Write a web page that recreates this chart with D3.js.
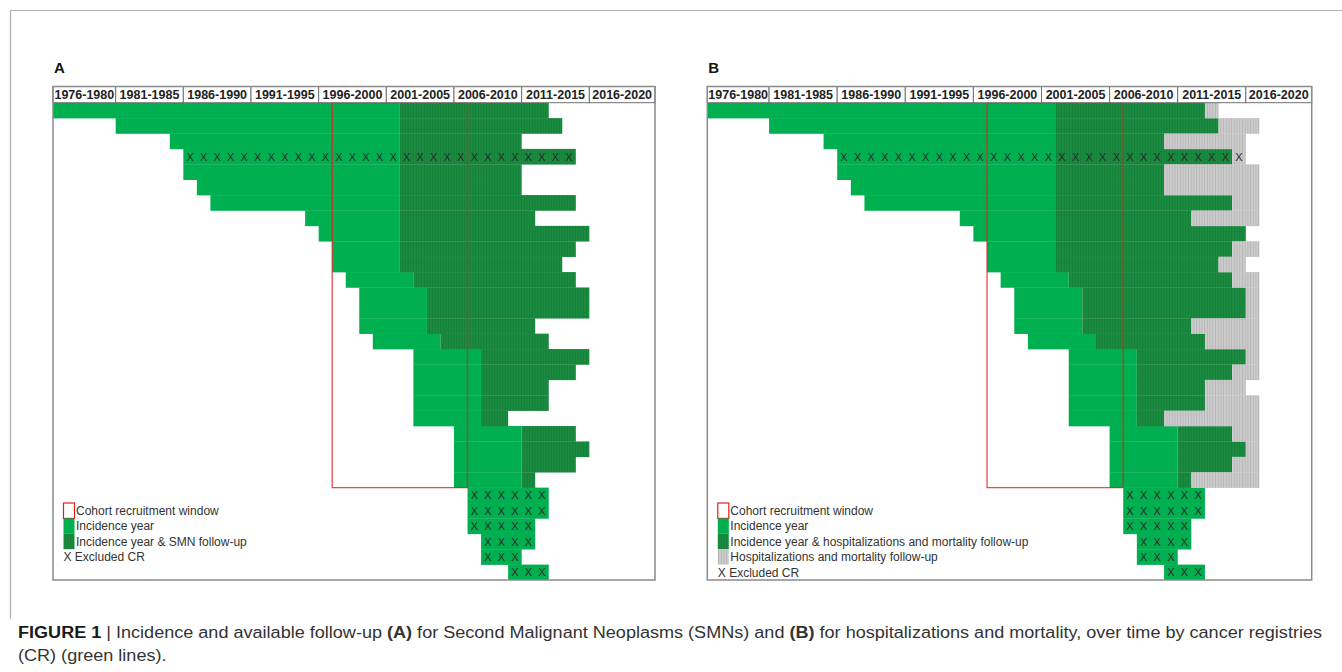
<!DOCTYPE html>
<meta charset="utf-8">
<html>
<body style="margin:0;background:#fff">
<div id="chart"></div>
<script src="https://cdnjs.cloudflare.com/ajax/libs/d3/7.8.5/d3.min.js"></script>
<script type="text/javascript">

  // five-year header periods
  var periods = ["1976-1980", "1981-1985", "1986-1990", "1991-1995", "1996-2000",
                 "2001-2005", "2006-2010", "2011-2015", "2016-2020"];

  // one entry per cancer registry (row)
  var startYear = [1976, 1981, 1985, 1986, 1986, 1987, 1988, 1995, 1996, 1997, 1997,
                   1998, 1999, 1999, 1999, 2000, 2003, 2003, 2003, 2003, 2003,
                   2006, 2006, 2006, 2006, 2007, 2007, 2007, 2008, 2008, 2010];
  // first year with follow-up (null = incidence only)
  var followStart = [2002, 2002, 2002, 2002, 2002, 2002, 2002, 2002, 2002, 2002, 2002,
                     2003, 2004, 2004, 2004, 2005, 2008, 2008, 2008, 2008, 2008,
                     2011, 2011, 2011, 2011, null, null, null, null, null, null];
  // last incidence year with SMN follow-up (panel A)
  var smnLast = [2012, 2013, 2010, 2014, 2010, 2010, 2014, 2011, 2015, 2014, 2013,
                 2014, 2015, 2015, 2011, 2012, 2015, 2014, 2012, 2012, 2009,
                 2014, 2015, 2014, 2011, 2012, 2012, 2011, 2011, 2010, 2012];
  // last incidence year with hospitalization/mortality follow-up (panel B)
  var hospIncLast = [2012, 2013, 2009, 2014, 2009, 2009, 2014, 2011, 2015, 2014, 2013,
                     2014, 2015, 2015, 2011, 2012, 2015, 2014, 2012, 2012, 2009,
                     2014, 2015, 2014, 2011, 2012, 2012, 2011, 2011, 2010, 2012];
  // last year of hospitalization/mortality follow-up (panel B)
  var hospLast = [2013, 2016, 2015, 2015, 2016, 2016, 2016, 2016, 2015, 2016, 2015,
                  2016, 2016, 2016, 2016, 2016, 2016, 2016, 2015, 2016, 2016,
                  2016, 2016, 2016, 2016, null, null, null, null, null, null];
  var excludedRows = [3, 25, 26, 27, 28, 29, 30];
  var cohortWindow = [1997, 2006];

  var legendA = ["Cohort recruitment window", "Incidence year", "Incidence year & SMN follow-up"];
  var legendB = ["Cohort recruitment window", "Incidence year",
                 "Incidence year & hospitalizations and mortality follow-up",
                 "Hospitalizations and mortality follow-up"];

  var W = 1342, H = 672;
  var light = "#00b050", red = "#e02020";
  var headTop = 86.5, headBottom = 102.7, bottom = 580;

  var svg = d3.select("#chart").append("svg").attr("width", W).attr("height", H)
    .style("font-family", "'Liberation Sans', Arial, sans-serif");

  var defs = svg.append("defs");
  var pd = defs.append("pattern").attr("id", "darkFill").attr("patternUnits", "userSpaceOnUse")
    .attr("width", 2.7).attr("height", 10);
  pd.append("rect").attr("width", 2.7).attr("height", 10).attr("fill", "#1a8b40");
  pd.append("rect").attr("width", 0.8).attr("height", 10).attr("fill", "#147d37");
  var pg = defs.append("pattern").attr("id", "greyFill").attr("patternUnits", "userSpaceOnUse")
    .attr("width", 2.7).attr("height", 10);
  pg.append("rect").attr("width", 2.7).attr("height", 10).attr("fill", "#cbcbcb");
  pg.append("rect").attr("width", 0.8).attr("height", 10).attr("fill", "#b5b5b5");

  // outer frame
  svg.append("path").attr("d", "M10.5,619 V10.5 H1342")
    .attr("fill", "none").attr("stroke", "#b0b0b0").attr("stroke-width", 1.2);

  var y = d3.scaleBand().domain(d3.range(startYear.length)).range([headBottom, bottom]);

  function drawPanel(o) {
    var x = d3.scaleLinear().domain([1976, 2021]).range(o.range);
    var g = svg.append("g");
    var clipId = "clip" + o.label;
    defs.append("clipPath").attr("id", clipId).append("rect")
      .attr("x", o.left).attr("y", headTop).attr("width", o.right - o.left).attr("height", bottom - headTop);
    var plot = g.append("g").attr("clip-path", "url(#" + clipId + ")");

    var rows = d3.range(startYear.length).map(function (i) {
      return {i: i, start: startYear[i], fu: followStart[i], inc: o.incLast[i],
              fuLast: o.fuLast ? o.fuLast[i] : null, excl: excludedRows.indexOf(i) >= 0};
    });

    // incidence only
    plot.selectAll("rect.light").data(rows).enter().append("rect").attr("class", "light")
      .attr("x", function (d) { return x(d.start); })
      .attr("y", function (d) { return y(d.i); })
      .attr("width", function (d) { return x(d.fu !== null ? d.fu : d.inc + 1) - x(d.start); })
      .attr("height", y.bandwidth() + 0.3)
      .attr("fill", light);

    // incidence + follow-up
    plot.selectAll("rect.dark").data(rows.filter(function (d) { return d.fu !== null; }))
      .enter().append("rect").attr("class", "dark")
      .attr("x", function (d) { return x(d.fu); })
      .attr("y", function (d) { return y(d.i); })
      .attr("width", function (d) { return x(d.inc + 1) - x(d.fu); })
      .attr("height", y.bandwidth() + 0.3)
      .attr("fill", "url(#darkFill)");

    // follow-up only (panel B)
    if (o.fuLast) {
      plot.selectAll("rect.grey").data(rows.filter(function (d) { return d.fuLast !== null && d.fuLast > d.inc; }))
        .enter().append("rect").attr("class", "grey")
        .attr("x", function (d) { return x(d.inc + 1); })
        .attr("y", function (d) { return y(d.i); })
        .attr("width", function (d) { return x(d.fuLast + 1) - x(d.inc + 1); })
        .attr("height", y.bandwidth() + 0.3)
        .attr("fill", "url(#greyFill)");
    }

    // excluded registries: one X per year
    var crosses = [];
    rows.filter(function (d) { return d.excl; }).forEach(function (d) {
      var last = d.fuLast !== null ? d.fuLast : d.inc;
      d3.range(d.start, last + 1).forEach(function (yr) { crosses.push({i: d.i, yr: yr}); });
    });
    plot.selectAll("text.x").data(crosses).enter().append("text").attr("class", "x")
      .attr("x", function (d) { return x(d.yr + 0.5); })
      .attr("y", function (d) { return y(d.i) + y.bandwidth() / 2 + 4; })
      .attr("text-anchor", "middle")
      .style("font-size", "11px")
      .style("fill", "#2a2a2a")
      .text("X");

    // cohort recruitment window
    g.append("rect")
      .attr("x", x(cohortWindow[0])).attr("y", headBottom)
      .attr("width", x(cohortWindow[1] + 1) - x(cohortWindow[0]))
      .attr("height", y(25) - headBottom)
      .attr("fill", "none").attr("stroke", red).attr("stroke-opacity", 0.8).attr("stroke-width", 1.3);

    // header cells
    var heads = g.selectAll("g.head").data(periods).enter().append("g").attr("class", "head");
    heads.append("rect")
      .attr("x", function (d) { return Math.max(x(+d.slice(0, 4)), o.left); })
      .attr("y", headTop)
      .attr("width", function (d) {
        return Math.min(x(+d.slice(5) + 1), o.right) - Math.max(x(+d.slice(0, 4)), o.left);
      })
      .attr("height", headBottom - headTop)
      .attr("fill", "#fff").attr("stroke", "#707070").attr("stroke-width", 1);
    heads.append("text")
      .attr("x", function (d) {
        return (Math.max(x(+d.slice(0, 4)), o.left) + Math.min(x(+d.slice(5) + 1), o.right)) / 2;
      })
      .attr("y", 99.3)
      .attr("text-anchor", "middle")
      .style("font-size", "12.5px").style("font-weight", "bold").style("fill", "#222")
      .text(function (d) { return d; });

    // panel border
    g.append("rect").attr("x", o.left).attr("y", headTop)
      .attr("width", o.right - o.left).attr("height", bottom - headTop)
      .attr("fill", "none").attr("stroke", "#8a8a8a").attr("stroke-width", 1.5);

    // panel letter
    g.append("text").attr("x", o.left + 1).attr("y", 73)
      .style("font-size", "15px").style("font-weight", "bold").style("fill", "#111")
      .text(o.label);

    // legend
    var lx = o.left + 10.5, sw = 11;
    var swatches = ["box", light, "url(#darkFill)", "url(#greyFill)"];
    o.legend.forEach(function (txt, k) {
      var top = y(26 + k);
      if (k === 0) {
        g.append("rect").attr("x", lx).attr("y", top).attr("width", sw).attr("height", y.bandwidth())
          .attr("fill", "#fff").attr("stroke", red).attr("stroke-width", 1.2);
      } else {
        g.append("rect").attr("x", lx).attr("y", top).attr("width", sw).attr("height", y.bandwidth())
          .attr("fill", swatches[k]);
      }
      g.append("text").attr("x", lx + sw + 1.5).attr("y", top + 12)
        .style("font-size", "12px").style("fill", "#333").text(txt);
    });
    g.append("text").attr("x", lx).attr("y", y(26 + o.legend.length) + 12)
      .style("font-size", "12px").style("fill", "#333").text("X Excluded CR");
  }

  drawPanel({label: "A", left: 53, right: 655, range: [48, 657], incLast: smnLast, fuLast: null, legend: legendA});
  drawPanel({label: "B", left: 707.3, right: 1311.7, range: [701, 1313.9], incLast: hospIncLast, fuLast: hospLast, legend: legendB});

  // caption
  var cap1 = svg.append("text").attr("x", 18).attr("y", 638)
    .style("font-family", "'Liberation Sans Narrow', 'Liberation Sans', Arial, sans-serif")
    .style("font-size", "16px").style("fill", "#333");
  cap1.append("tspan").style("font-weight", "bold").style("fill", "#1a1a1a").text("FIGURE 1");
  cap1.append("tspan").text(" | Incidence and available follow-up ");
  cap1.append("tspan").style("font-weight", "bold").text("(A)");
  cap1.append("tspan").text(" for Second Malignant Neoplasms (SMNs) and ");
  cap1.append("tspan").style("font-weight", "bold").text("(B)");
  cap1.append("tspan").text(" for hospitalizations and mortality, over time by cancer registries");
  var cap2 = svg.append("text").attr("x", 18).attr("y", 661)
    .style("font-family", "'Liberation Sans Narrow', 'Liberation Sans', Arial, sans-serif")
    .style("font-size", "16px").style("fill", "#333")
    .text("(CR) (green lines).");
  var ratio = 1304 / cap1.node().getComputedTextLength();
  cap1.attr("textLength", 1304).attr("lengthAdjust", "spacingAndGlyphs");
  cap2.attr("textLength", cap2.node().getComputedTextLength() * ratio).attr("lengthAdjust", "spacingAndGlyphs");
</script>
</body>
</html>
